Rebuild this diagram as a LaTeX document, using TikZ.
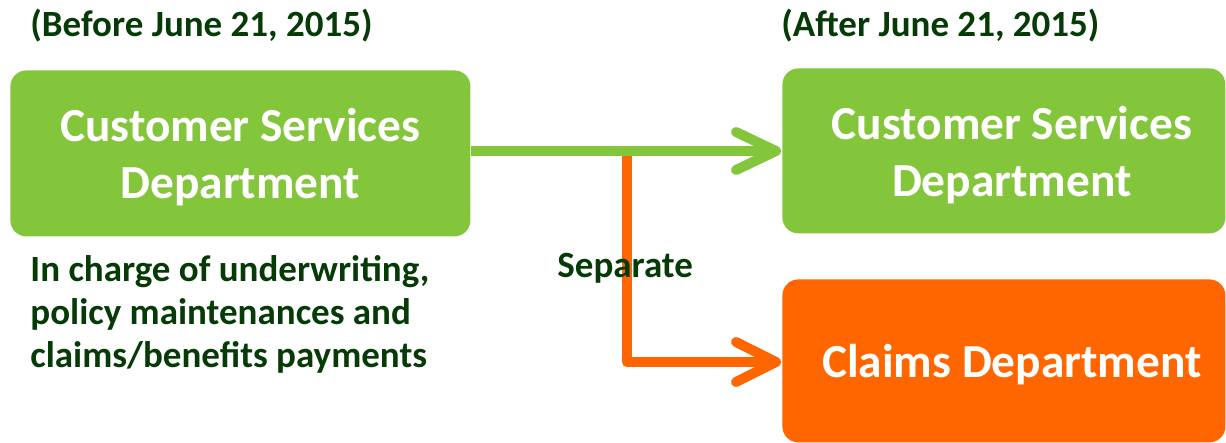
\documentclass[tikz,border=0pt]{standalone}
\usepackage{fontspec}
\setmainfont{Carlito}
\definecolor{boxgreen}{HTML}{84C63B}
\definecolor{boxorange}{HTML}{FF6600}
\definecolor{darktext}{HTML}{063A06}
\tikzset{
  dept/.style={rounded corners=8pt, text=white, align=center, text depth=0pt,
    font=\fontsize{23.7pt}{28.5pt}\selectfont\bfseries, inner sep=0pt, anchor=north west},
  smalltxt/.style={text=darktext, font=\fontsize{18.5pt}{21.5pt}\selectfont\bfseries, inner sep=0pt},
  conn/.style={line width=5pt},
  chev/.style={line width=5pt, line cap=round, line join=round}
}
\begin{document}
\begin{tikzpicture}[x=0.5pt, y=-0.5pt]
\useasboundingbox (0,0) rectangle (1226,443);
\clip (0,0) rectangle (1226,443);
% boxes
\node[dept, fill=boxgreen, minimum width=230pt, minimum height=83pt] (csL) at (10,70)
  {Customer Services\\Department};
\node[dept, fill=boxgreen, minimum width=221.5pt, minimum height=82.5pt] (csR) at (782,68)
  {\hspace*{8pt}Customer Services\\\hspace*{8pt}Department};
\node[dept, fill=boxorange, minimum width=221.5pt, minimum height=81.5pt] (cl) at (782,279)
  {\hspace*{8pt}Claims Department};
% connector coordinates
\coordinate (split) at (627,151);
\coordinate (gtip) at ([xshift=-3pt]csR.west |- split);
\coordinate (bend) at (627,362);
\coordinate (otip) at ([xshift=-3pt]cl.west |- bend);
% orange separation arrow
\draw[conn, boxorange, line join=round] (split) -- (bend) -- (otip);
\draw[chev, boxorange] ([shift={(-40,-20)}]otip) -- (otip) -- ([shift={(-40,20)}]otip);
% green continuation arrow
\draw[conn, boxgreen] (csL.east |- split) -- (gtip);
\draw[chev, boxgreen] ([shift={(-40,-19)}]gtip) -- (gtip) -- ([shift={(-40,19)}]gtip);
% texts
\node[smalltxt, anchor=base west] (before) at (30,37) {(Before June 21, 2015)};
\node[smalltxt, anchor=base west] (after) at (781,37) {(After June 21, 2015)};
\node[smalltxt, anchor=base west] (sep) at (557,278) {Separate};
\node[smalltxt, anchor=base west, align=left] (desc) at (30,367)
  {In charge of underwriting,\\policy maintenances and\\claims/benefits payments};
\end{tikzpicture}
\end{document}
